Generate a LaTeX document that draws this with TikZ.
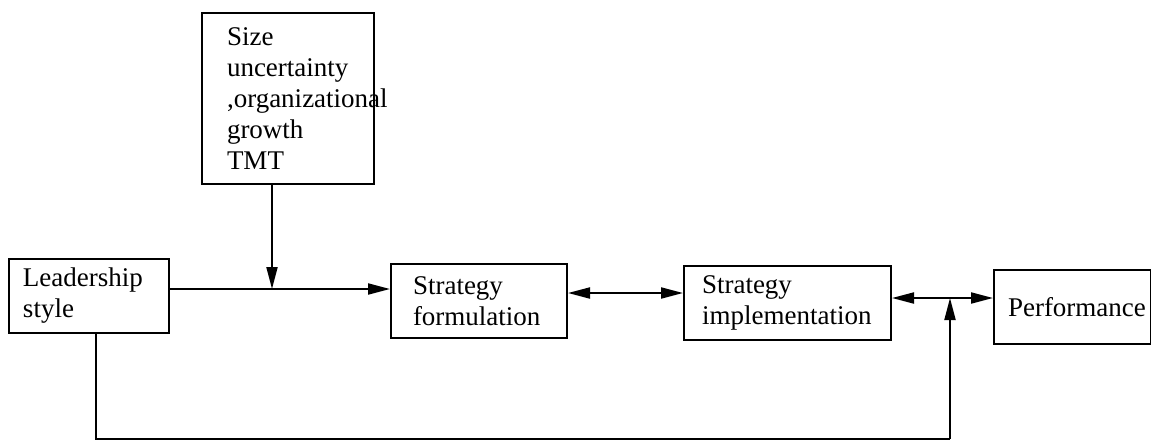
\documentclass[tikz,border=0pt]{standalone}
\usepackage{fontspec}
\setmainfont{Liberation Serif}
\usetikzlibrary{arrows.meta}
\tikzset{
  tip/.tip={Triangle[length=11pt,width=5.5pt]},
  boxnode/.style={draw, line width=1pt, anchor=north west, align=left,
    inner ysep=0pt, font=\fontsize{13.5pt}{15.5pt}\selectfont},
  link/.style={line width=1pt, -tip},
  biarrow/.style={line width=1pt, tip-tip},
  plain/.style={line width=1pt}
}
\begin{document}
\begin{tikzpicture}[x=0.5pt,y=-0.5pt]
\useasboundingbox (0,0) rectangle (1151,446);

% boxes (positions given by their top-left corners)
\node[boxnode, inner xsep=12.5pt, text width=61pt, minimum height=85.5pt]
  (ctx) at (201,12) {Size\\uncertainty\\,organizational\\growth\\TMT};
\node[boxnode, inner xsep=7pt, text width=66pt, minimum height=37pt]
  (lead) at (8,258) {Leadership\\style};
\node[boxnode, inner xsep=11pt, text width=66pt, minimum height=37pt]
  (sf) at (390,263) {Strategy\\formulation};
\node[boxnode, inner xsep=9pt, text width=85.5pt, minimum height=37pt]
  (si) at (683,265) {Strategy\\implementation};
\node[boxnode, inner xsep=7pt, text width=64.5pt, minimum height=37pt]
  (perf) at (993,269) {Performance};

% junction points
\coordinate (j1) at (272,289);
\coordinate (j2) at (950,298);
\coordinate (c1) at (96,439);
\coordinate (c2) at (950,439);

% connectors
\draw[link] (lead.east |- j1) -- (sf.west |- j1);
\draw[link] (ctx.south -| j1) -- (j1);
\draw[biarrow] (sf.east |- 0,293) -- (si.west |- 0,293);
\draw[biarrow] (si.east |- j2) -- (perf.west |- j2);
\draw[plain] (lead.south -| c1) -- (c1) -- (c2);
\draw[link] (c2) -- (j2);
\end{tikzpicture}
\end{document}
